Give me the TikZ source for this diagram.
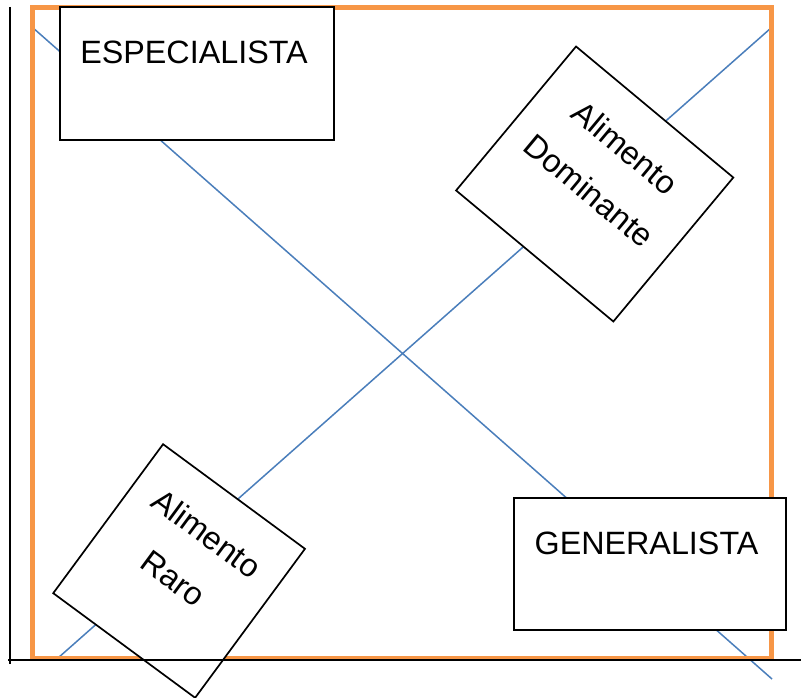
\documentclass[tikz,border=0pt]{standalone}
\usepackage{fontspec}
\setmainfont{Liberation Sans}
\usetikzlibrary{calc}
\definecolor{frameorange}{HTML}{F79646}
\definecolor{lineblue}{HTML}{4A7EBB}
\begin{document}
\begin{tikzpicture}[x=1pt,y=-1pt,
  box/.style={draw=black, line width=1.7pt, fill=white, inner sep=0pt},
  lbl/.style={font=\fontsize{32.3}{56}\selectfont, inner sep=0pt, align=center},
  diag/.style={draw=lineblue, line width=1.5pt},
  axis/.style={draw=black, line width=1.8pt},
  framestyle/.style={draw=frameorange, line width=4.5pt}]
\useasboundingbox (0,0) rectangle (801,698);
\fill[white] (0,0) rectangle (801,698);
% diagonal lines
\coordinate (d1s) at (32,27);
\coordinate (d1e) at (772,679);
\coordinate (d2s) at (58,658);
\coordinate (d2e) at (771,28);
\draw[diag] (d1s) -- (d1e);
\draw[diag] (d2s) -- (d2e);
% orange frame
\draw[framestyle] (32.5,7.5) rectangle (771.5,658.5);
% boxes
\node[box, minimum width=274pt, minimum height=133pt] (esp) at (197,73.5) {};
\node[lbl, anchor=base] (espt) at (194,64) {ESPECIALISTA};
\node[box, minimum width=271.7pt, minimum height=132.3pt] (gen) at (649.9,563.9) {};
\node[lbl, anchor=base] (gent) at (646.5,554) {GENERALISTA};
\node[box, minimum width=204.7pt, minimum height=187.4pt, rotate=-39.8] (dom) at (594.7,184) {};
\node[lbl, anchor=north, rotate=-39.8] (domt) at ($(dom.north)!0.185!(dom.south)$) {Alimento\\Dominante};
\node[box, minimum width=176.3pt, minimum height=185.1pt, rotate=-36.4] (raro) at (179.1,571) {};
\node[lbl, anchor=north, rotate=-36.4] (rarot) at ($(raro.north)!0.185!(raro.south)$) {Alimento\\Raro};
% axes
\coordinate (ytop) at (10,7);
\coordinate (ybot) at (10,664);
\coordinate (xstart) at (8,660);
\coordinate (xend) at (801,660);
\draw[axis] (ytop) -- (ybot);
\draw[axis] (xstart) -- (xend);
\end{tikzpicture}
\end{document}
